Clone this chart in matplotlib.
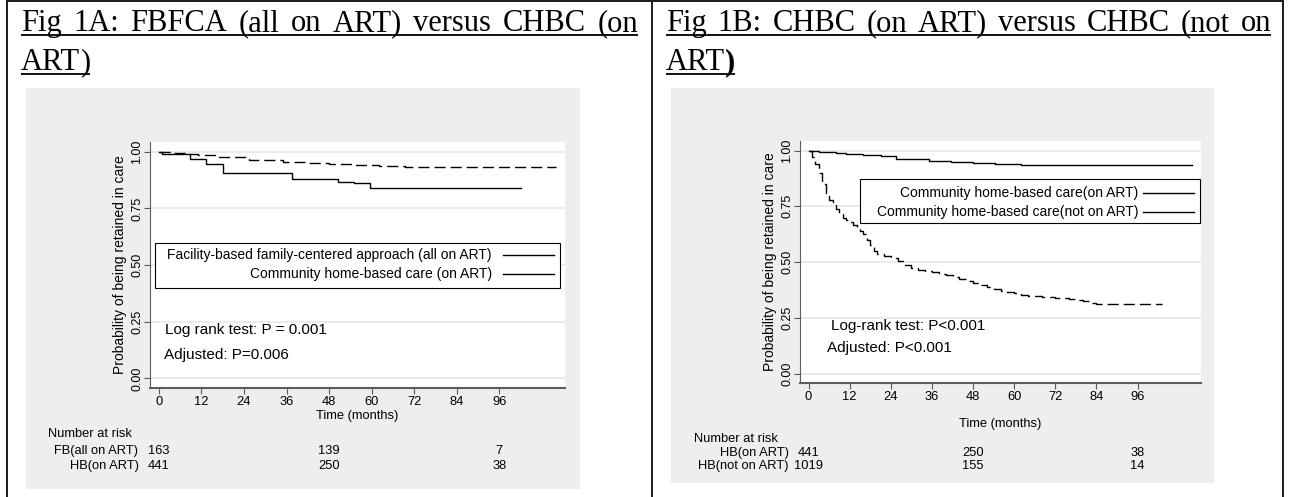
import matplotlib
matplotlib.use('Agg')
import matplotlib.pyplot as plt
from matplotlib import font_manager
from matplotlib.patches import Rectangle
import matplotlib.transforms as mtransforms

W, H, DPI = 1290, 497, 100

# ---------------- data ----------------
month_ticks = [0, 12, 24, 36, 48, 60, 72, 84, 96]
prob_ticks = [0.0, 0.25, 0.50, 0.75, 1.00]

# Fig 1A: facility-based family-centered approach (all on ART)
fb_time = [0, 1, 8.7, 13.4, 18.2, 37.4, 50.6, 55, 59.5, 102]
fb_surv = [1.0, 0.99, 0.966, 0.944, 0.907, 0.878, 0.867, 0.862, 0.841, 0.841]

# Community home-based care (on ART) -- used in both panels
hb_art_time = [0, 3, 8, 11, 16, 21, 25.5, 35, 41.5, 48, 54.5, 62, 69.5, 112]
hb_art_surv = [1.0, 0.995, 0.99, 0.986, 0.979, 0.976, 0.962, 0.955, 0.950,
               0.945, 0.940, 0.937, 0.934, 0.934]

# Community home-based care (not on ART)
hb_noart_time = [0, 1, 2, 3, 4, 5, 6, 7, 8, 9, 10, 11, 12, 13, 14, 15, 16, 17,
                 18, 19, 20, 22, 24, 26, 28, 30, 32, 34, 36, 38, 40, 42, 44,
                 46, 48, 50, 52, 54, 56, 58, 60, 62, 64, 68, 72, 76, 78, 80,
                 82, 84, 103]
hb_noart_surv = [1.0, 0.97, 0.94, 0.90, 0.85, 0.81, 0.78, 0.76, 0.74, 0.72,
                 0.70, 0.69, 0.68, 0.665, 0.65, 0.64, 0.625, 0.60, 0.575, 0.55,
                 0.538, 0.528, 0.518, 0.505, 0.488, 0.475, 0.465, 0.46, 0.455,
                 0.447, 0.44, 0.435, 0.425, 0.415, 0.405, 0.398, 0.39, 0.378,
                 0.37, 0.368, 0.362, 0.352, 0.347, 0.342, 0.338, 0.334, 0.332,
                 0.325, 0.317, 0.313, 0.313]

risk_times = [0, 48, 96]
risk_fb = [163, 139, 7]
risk_hb_art = [441, 250, 38]
risk_hb_noart = [1019, 155, 14]

# ---------------- fonts ----------------
avail = {f.name for f in font_manager.fontManager.ttflist}
SERIF = 'Liberation Serif'
SANS = 'Liberation Sans'
NARROW = 'Liberation Sans Narrow' if 'Liberation Sans Narrow' in avail else SANS
NARROW_SIZE = 10.5 if NARROW != SANS else 9.3

fig = plt.figure(figsize=(W / DPI, H / DPI), dpi=DPI)
fig.patch.set_facecolor('white')

bg = fig.add_axes([0, 0, 1, 1], zorder=0)
bg.set_xlim(0, W); bg.set_ylim(H, 0); bg.axis('off')
fg = fig.add_axes([0, 0, 1, 1], zorder=5)
fg.set_xlim(0, W); fg.set_ylim(H, 0); fg.axis('off')
fg.patch.set_alpha(0)

GRAY = '#eeeeee'
bg.add_patch(Rectangle((26, 88), 554, 401, fc=GRAY, ec='none'))
bg.add_patch(Rectangle((671, 88), 543, 395, fc=GRAY, ec='none'))

# table borders
for x in (7, 652, 1283):
    bg.plot([x, x], [0, H], color='#1a1a1a', lw=1.4, solid_capstyle='butt')
bg.plot([7, 1283], [1, 1], color='#1a1a1a', lw=1.4, solid_capstyle='butt')

renderer = fig.canvas.get_renderer()
TSIZE = 22


def justified_line(words, x0, x1, y):
    texts = [bg.text(0, y, w, fontsize=TSIZE, family=SERIF, va='baseline', ha='left')
             for w in words]
    widths = [t.get_window_extent(renderer).width for t in texts]
    gap = (x1 - x0 - sum(widths)) / (len(words) - 1)
    x = x0
    for t, w in zip(texts, widths):
        t.set_x(x)
        x += w + gap
    bg.plot([x0, x1], [y + 3.5, y + 3.5], color='black', lw=1.3, solid_capstyle='butt')


def second_line(x0, y, bold_paren):
    t = bg.text(x0, y, 'ART', fontsize=TSIZE, family=SERIF, va='baseline', ha='left')
    w = t.get_window_extent(renderer).width
    p = bg.text(x0 + w, y, ')', fontsize=TSIZE, family=SERIF, va='baseline', ha='left',
                fontweight='bold' if bold_paren else 'normal')
    w2 = p.get_window_extent(renderer).width
    bg.plot([x0, x0 + w + w2], [y + 3.5, y + 3.5], color='black', lw=1.3,
            solid_capstyle='butt')


justified_line('Fig 1A: FBFCA (all on ART) versus CHBC (on'.split(), 21, 638, 31)
second_line(21, 70, False)
justified_line('Fig 1B: CHBC (on ART) versus CHBC (not on'.split(), 666, 1271, 31)
second_line(666, 70, True)


def make_axes(x0, y0, x1, y1):
    ax = fig.add_axes([x0 / W, 1 - y1 / H, (x1 - x0) / W, (y1 - y0) / H], zorder=2)
    ax.set_facecolor('white')
    ax.set_xlim(-2.5, 114.5)
    ax.set_ylim(-0.042, 1.043)
    for s in ('top', 'right'):
        ax.spines[s].set_visible(False)
    ax.spines['left'].set_color('#5c5c5c'); ax.spines['left'].set_linewidth(0.8)
    ax.spines['bottom'].set_color('#5c5c5c'); ax.spines['bottom'].set_linewidth(1.5)
    ax.set_yticks(prob_ticks)
    ax.set_yticklabels([f'{v:.2f}' for v in prob_ticks], rotation=90, va='center',
                       fontsize=9, family=SANS)
    ax.set_xticks(month_ticks)
    ax.set_xticklabels([str(m) for m in month_ticks], fontsize=NARROW_SIZE, family=NARROW)
    ax.tick_params(axis='y', length=4, width=0.8, color='#5c5c5c', pad=1)
    ax.tick_params(axis='x', length=4, width=0.8, color='#5c5c5c', pad=2)
    ax.set_axisbelow(True)
    ax.yaxis.grid(True, color='#e8e8e8', lw=1.2)
    return ax


DASH = (0, (8, 3.6))

# ---------- Fig 1A ----------
axA = make_axes(150, 142, 565, 388)
axA.step(fb_time, fb_surv, where='post', color='black', lw=1.0)
axA.step(hb_art_time, hb_art_surv, where='post', color='black', lw=1.0, linestyle=DASH)

# ---------- Fig 1B ----------
axB = make_axes(800, 141, 1201, 383)
axB.step(hb_art_time, hb_art_surv, where='post', color='black', lw=1.0)
axB.step(hb_noart_time, hb_noart_surv, where='post', color='black', lw=1.0, linestyle=DASH)

# axis titles
fg.text(120, 265, 'Probability of being retained in care', rotation=90, ha='center',
        va='center', fontsize=10, family=SANS)
fg.text(770, 262, 'Probability of being retained in care', rotation=90, ha='center',
        va='center', fontsize=10, family=SANS)
fg.text(357.5, 416, 'Time (months)', ha='center', va='center', fontsize=NARROW_SIZE,
        family=NARROW)
fg.text(1000.5, 424, 'Time (months)', ha='center', va='center', fontsize=NARROW_SIZE,
        family=NARROW)

# legends (manual, Stata style: labels right-aligned, keys to the right)
fg.add_patch(Rectangle((155, 242.7), 405, 45.6, fc='white', ec='black', lw=0.8))
for y, lab in ((255, 'Facility-based family-centered approach (all on ART)'),
               (274, 'Community home-based care (on ART)')):
    fg.text(491.7, y, lab, ha='right', va='center', fontsize=10, family=SANS)
    fg.plot([502.7, 554], [y, y], color='black', lw=1.0)

fg.add_patch(Rectangle((860, 179), 340, 44.3, fc='white', ec='black', lw=0.8))
for y, lab in ((192.7, 'Community home-based care(on ART)'),
               (211.7, 'Community home-based care(not on ART)')):
    fg.text(1138.3, y, lab, ha='right', va='center', fontsize=10, family=SANS)
    fg.plot([1143, 1194], [y, y], color='black', lw=1.0)

# test annotations
fg.text(165, 330, 'Log rank test: P = 0.001', ha='left', va='center', fontsize=11, family=SANS)
fg.text(164, 355, 'Adjusted: P=0.006', ha='left', va='center', fontsize=11, family=SANS)
fg.text(831, 326, 'Log-rank test: P<0.001', ha='left', va='center', fontsize=11, family=SANS)
fg.text(827, 348, 'Adjusted: P<0.001', ha='left', va='center', fontsize=11, family=SANS)

# number at risk tables
def risk_table(ax, label_right, label_left, y_head, rows):
    tr = mtransforms.blended_transform_factory(ax.transData, fg.transData)
    fg.text(label_left, y_head, 'Number at risk', ha='left', va='center',
            fontsize=NARROW_SIZE, family=NARROW)
    for y, name, counts in rows:
        fg.text(label_right, y, name, ha='right', va='center', fontsize=NARROW_SIZE,
                family=NARROW)
        for t, c in zip(risk_times, counts):
            fg.text(t, y, str(c), transform=tr, ha='center', va='center',
                    fontsize=NARROW_SIZE, family=NARROW)


risk_table(axA, 138.5, 47.5, 434, [(451, 'FB(all on ART)', risk_fb),
                                    (466, 'HB(on ART)', risk_hb_art)])
risk_table(axB, 789, 694, 439, [(453, 'HB(on ART)', risk_hb_art),
                                 (466, 'HB(not on ART)', risk_hb_noart)])

fig.savefig('out.png', dpi=DPI)
